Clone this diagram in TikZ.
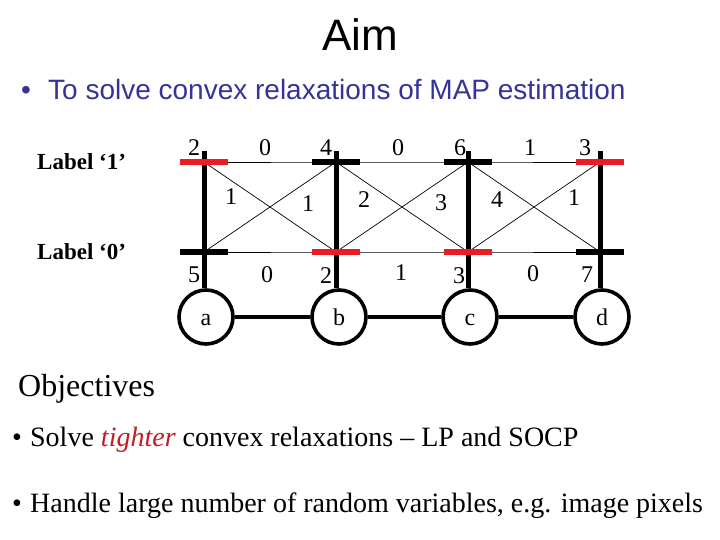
\documentclass[tikz,border=0pt]{standalone}
\usepackage{fontspec}
\setmainfont{Liberation Serif}
\setsansfont{Liberation Sans}
\usetikzlibrary{positioning}
\definecolor{aimblue}{RGB}{51,51,153}
\definecolor{labelred}{RGB}{236,28,36}
\definecolor{tightred}{RGB}{190,30,40}
\tikzset{
  title/.style={font=\sffamily\fontsize{44}{48}\selectfont, anchor=base, inner sep=0pt},
  aimtext/.style={font=\sffamily\fontsize{28}{32}\selectfont, text=aimblue, anchor=base west, inner sep=0pt},
  headline/.style={font=\fontsize{32}{36}\selectfont, anchor=base west, inner sep=0pt},
  bodytext/.style={font=\fontsize{28}{32}\selectfont, anchor=base west, inner sep=0pt},
  statename/.style={font=\bfseries\fontsize{23}{26}\selectfont, anchor=base west, inner sep=0pt},
  var/.style={circle, draw=black, line width=3.6pt, minimum size=54pt, inner sep=0pt, text height=17pt, text depth=0pt, font=\fontsize{24}{26}\selectfont},
  offbar/.style={rectangle, fill=black, minimum width=48pt, minimum height=6.5pt, inner sep=0pt},
  onbar/.style={offbar, fill=labelred},
  chain/.style={draw=black, line width=3.6pt},
  pole/.style={draw=black, line width=5pt},
  pair/.style={draw=black, line width=0.7pt},
  pot/.style={font=\fontsize{24}{26}\selectfont, inner sep=0pt}
}
\newcommand{\bulletgap}[2]{\makebox[#1][l]{\textbullet}#2}

\begin{document}
\begin{tikzpicture}[x=1pt, y=-1pt]
\useasboundingbox (0,0) rectangle (720,540);

% heading
\node[title] (aim) at (360,51) {Aim};
\node[aimtext] (goal) at (21,100) {\bulletgap{27pt}{To solve convex relaxations of MAP estimation}};

% labels of the states
\node[statename] (lab1) at (37,170) {Label ‘1’};
\node[statename] (lab0) at (37,259) {Label ‘0’};

% states of the variables
\coordinate (atop) at (204,151); \coordinate (a1) at (204,162); \coordinate (a0) at (204,252);
\coordinate (btop) at (336,151); \coordinate (b1) at (336,162); \coordinate (b0) at (336,252);
\coordinate (ctop) at (468,151); \coordinate (c1) at (468,162); \coordinate (c0) at (468,252);
\coordinate (dtop) at (600,151); \coordinate (d1) at (600,162); \coordinate (d0) at (600,252);

% random variables
\node[var] (a) at (206,317) {a};
\node[var] (b) at (339,317) {b};
\node[var] (c) at (470,317) {c};
\node[var] (d) at (602,317) {d};

\draw[chain] (a) -- (b) -- (c) -- (d);

% pairwise terms
\draw[pair] (a1) -- (b1) -- (c1) -- (d1);
\draw[pair] (a0) -- (b0) -- (c0) -- (d0);
\draw[pair] (a1) -- (b0) (a0) -- (b1);
\draw[pair] (b1) -- (c0) (b0) -- (c1);
\draw[pair] (c1) -- (d0) (c0) -- (d1);

\draw[pole] (atop) -- (atop |- a.north);
\draw[pole] (btop) -- (btop |- b.north);
\draw[pole] (ctop) -- (ctop |- c.north);
\draw[pole] (dtop) -- (dtop |- d.north);

\node[onbar] (a1bar) at (a1) {};
\node[offbar] (a0bar) at (a0) {};
\node[offbar] (b1bar) at (b1) {};
\node[onbar] (b0bar) at (b0) {};
\node[offbar] (c1bar) at (c1) {};
\node[onbar] (c0bar) at (c0) {};
\node[onbar] (d1bar) at (d1) {};
\node[offbar] (d0bar) at (d0) {};

% unary potentials
\node[pot] (ua1) at (194,148) {2};
\node[pot] (ua0) at (194,275) {5};
\node[pot] (ub1) at (326,148) {4};
\node[pot] (ub0) at (326,276) {2};
\node[pot] (uc1) at (460,148) {6};
\node[pot] (uc0) at (459,276) {3};
\node[pot] (ud1) at (585,148) {3};
\node[pot] (ud0) at (587,275) {7};

% pairwise potentials
\node[pot] (pab11) at (265,148) {0};
\node[pot] (pbc11) at (398,148) {0};
\node[pot] (pcd11) at (530,148) {1};
\node[pot] (pab00) at (267,275) {0};
\node[pot] (pbc00) at (401,273) {1};
\node[pot] (pcd00) at (533,274) {0};
\node[pot] (pab10) at (231,197) {1};
\node[pot] (pab01) at (308,204) {1};
\node[pot] (pbc10) at (364,200) {2};
\node[pot] (pbc01) at (441,203) {3};
\node[pot] (pcd10) at (497,200) {4};
\node[pot] (pcd01) at (574,198) {1};

% objectives
\node[headline] (obj) at (18,396) {Objectives};
\node[bodytext] (tight) at (12,446) {\bulletgap{18pt}{Solve \textcolor{tightred}{\itshape tighter} convex relaxations -- LP and SOCP}};
\node[bodytext] (large) at (12,512) {\bulletgap{18pt}{Handle large number of random variables, e.g. image pixels}};

\end{tikzpicture}
\end{document}
